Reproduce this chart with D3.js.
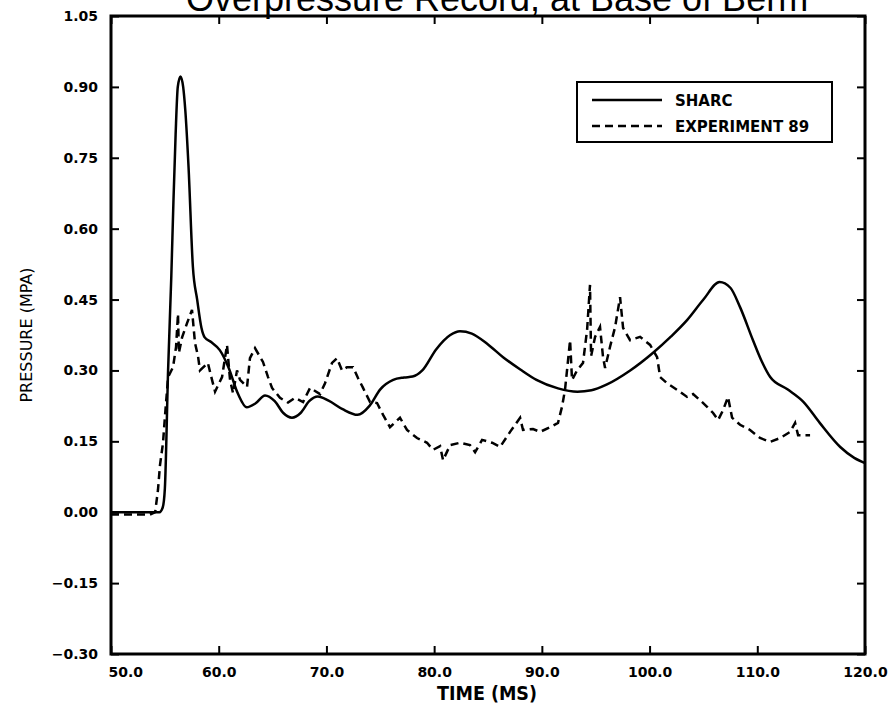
<!DOCTYPE html>
<html>
<head>
<meta charset="utf-8">
<script src="https://d3js.org/d3.v7.min.js"></script>
<style>
  body { margin: 0; background: #fff; }
  svg { display: block; }
</style>
</head>
<body>
<svg id="chart" width="893" height="707"></svg>
<script>
// values
var xTicks = [50, 60, 70, 80, 90, 100, 110, 120];
var yTicks = [-0.30, -0.15, 0.00, 0.15, 0.30, 0.45, 0.60, 0.75, 0.90, 1.05];

var sharcTime = [50, 54.5, 54.8, 55.0, 55.3, 55.6, 55.8, 56.0, 56.2, 56.45, 56.7, 56.9, 57.2, 57.6, 58.0, 58.4,
    58.7, 59.3, 60.1, 60.9, 61.8, 62.6, 63.4, 64.3, 65.2, 66.0, 66.8, 67.6, 68.4, 69.2, 70.2, 71.5, 72.9,
    74.0, 75.0, 76.2, 77.2, 78.0, 78.9, 80.2, 81.5, 82.4, 83.5, 85.0, 86.4, 88.0, 89.5, 91.5, 93.3, 94.6,
    96.0, 98.2, 100.3, 102.0, 103.5, 105.0, 106.5, 107.5, 108.4, 109.6, 110.4, 111.2, 112.8, 114.3, 115.8,
    117.7, 119.0, 120];
var sharcPressure = [0, 0, 0.01, 0.05, 0.3, 0.5, 0.66, 0.8, 0.9, 0.922, 0.9, 0.85, 0.73, 0.52, 0.45, 0.39,
    0.37, 0.36, 0.343, 0.307, 0.25, 0.222, 0.23, 0.247, 0.235, 0.21, 0.2, 0.21, 0.235, 0.245, 0.236, 0.218, 0.206,
    0.225, 0.26, 0.28, 0.285, 0.287, 0.3, 0.345, 0.375, 0.383, 0.378, 0.355, 0.328, 0.302, 0.28, 0.262, 0.255, 0.258,
    0.27, 0.3, 0.337, 0.372, 0.407, 0.45, 0.487, 0.475, 0.434, 0.364, 0.32, 0.286, 0.26, 0.233, 0.189,
    0.138, 0.115, 0.104];

var expTime = [50.0, 53.6, 54.1, 54.36, 54.55, 54.83, 55.0, 55.3, 55.76, 56.04, 56.22, 56.3, 56.6, 57.06, 57.52,
    57.8, 58.08, 58.26, 58.99, 59.38, 59.66, 60.31, 60.77, 61.05, 61.33, 61.7, 61.98, 62.63, 62.9, 63.37,
    64.11, 64.58, 64.95, 65.69, 66.43, 67.08, 67.83, 68.48, 69.41, 69.87, 70.52, 70.98, 71.45, 71.91, 72.47,
    72.93, 73.4, 74.05, 74.7, 75.26, 75.9, 76.83, 77.48, 78.41, 79.34, 79.9, 80.55, 80.83, 81.48, 82.4,
    83.33, 83.8, 84.45, 85.38, 86.12, 87.05, 87.98, 88.25, 89.18, 89.83, 90.76, 91.5, 91.87, 92.15, 92.62,
    92.8, 93.27, 93.82, 94.2, 94.47, 94.57, 94.94, 95.4, 95.68, 95.87, 96.33, 96.8, 97.26, 97.54, 98.19,
    99.12, 100.05, 100.7, 100.98, 101.62, 102.55, 103.48, 104.04, 104.69, 105.34, 105.9, 106.36, 106.82,
    107.28, 107.66, 108.4, 109.33, 110.26, 111.19, 112.12, 113.05, 113.51, 113.79, 114.9];
var expPressure = [-0.005, -0.005, 0.0, 0.047, 0.10, 0.147, 0.2, 0.286, 0.307, 0.35, 0.42, 0.337, 0.37, 0.40, 0.428,
    0.358, 0.33, 0.30, 0.316, 0.28, 0.255, 0.286, 0.354, 0.28, 0.252, 0.30, 0.28, 0.265, 0.326, 0.347,
    0.318, 0.286, 0.263, 0.242, 0.232, 0.242, 0.233, 0.263, 0.25, 0.273, 0.316, 0.326, 0.30, 0.307, 0.307,
    0.284, 0.263, 0.233, 0.231, 0.206, 0.18, 0.20, 0.174, 0.157, 0.147, 0.132, 0.14, 0.11, 0.142, 0.147,
    0.142, 0.127, 0.153, 0.147, 0.138, 0.17, 0.20, 0.174, 0.176, 0.17, 0.18, 0.189, 0.223, 0.259, 0.364,
    0.28, 0.30, 0.316, 0.386, 0.481, 0.33, 0.371, 0.392, 0.328, 0.305, 0.35, 0.392, 0.455, 0.39, 0.364,
    0.371, 0.354, 0.328, 0.286, 0.273, 0.259, 0.244, 0.25, 0.237, 0.223, 0.21, 0.195, 0.216,
    0.244, 0.20, 0.185, 0.174, 0.157, 0.149, 0.157, 0.17, 0.189, 0.163, 0.163];

var seriesNames = ["SHARC", "EXPERIMENT 89"];

var svg = d3.select("#chart"),
    plotLeft = 111, plotRight = 865, plotTop = 16, plotBottom = 654;

var x = d3.scaleLinear().domain([50, 120]).range([plotLeft, plotRight]);
var y = d3.scaleLinear().domain([-0.30, 1.05]).range([plotBottom, plotTop]);

// title, clipped at the top of the scan
svg.append("text")
    .attr("x", 497)
    .attr("y", 11)
    .attr("text-anchor", "middle")
    .style("font-family", "Liberation Sans, Arial, sans-serif")
    .style("font-size", "36px")
    .text("Overpressure Record, at Base of Berm");

// inward ticks on all four sides
var tickLen = 8;
var axisBottom = d3.axisBottom(x).tickValues(xTicks).tickSizeInner(-tickLen).tickSizeOuter(0);
var axisTop = d3.axisTop(x).tickValues(xTicks).tickSizeInner(-tickLen).tickSizeOuter(0).tickFormat("");
var axisLeft = d3.axisLeft(y).tickValues(yTicks).tickSizeInner(-tickLen).tickSizeOuter(0);
var axisRight = d3.axisRight(y).tickValues(yTicks).tickSizeInner(-tickLen).tickSizeOuter(0).tickFormat("");

function styleAxis(g) {
    g.select(".domain").remove();
    g.selectAll(".tick line").attr("stroke", "#000").attr("stroke-width", 2);
    g.selectAll(".tick text")
        .style("font-family", "DejaVu Sans, sans-serif")
        .style("font-weight", "bold")
        .style("font-size", "14px")
        .attr("fill", "#000");
}

var gx = svg.append("g").attr("transform", "translate(0," + plotBottom + ")").call(axisBottom).call(styleAxis);
gx.selectAll(".tick text").attr("y", 13).attr("dy", "0.71em").text(function (d) {
    return d3.format(".1f")(d);
});
// first label sits to the right of the corner
gx.selectAll(".tick text").filter(function (d) { return d === 50; })
    .attr("text-anchor", "start").attr("x", -3);

svg.append("g").attr("transform", "translate(0," + plotTop + ")").call(axisTop).call(styleAxis);

var gy = svg.append("g").attr("transform", "translate(" + plotLeft + ",0)").call(axisLeft).call(styleAxis);
gy.selectAll(".tick text").attr("x", -13).text(function (d) {
    return d3.format(".2f")(d).replace("-", "\u2212");
});

svg.append("g").attr("transform", "translate(" + plotRight + ",0)").call(axisRight).call(styleAxis);

// frame
svg.append("rect")
    .attr("x", plotLeft)
    .attr("y", plotTop)
    .attr("width", plotRight - plotLeft)
    .attr("height", plotBottom - plotTop)
    .attr("fill", "none")
    .attr("stroke", "#000")
    .attr("stroke-width", 3);

// axis titles
svg.append("text")
    .attr("x", 487)
    .attr("y", 700)
    .attr("text-anchor", "middle")
    .attr("textLength", 100)
    .attr("lengthAdjust", "spacingAndGlyphs")
    .style("font-family", "DejaVu Sans, sans-serif")
    .style("font-weight", "bold")
    .style("font-size", "19px")
    .text("TIME (MS)");

svg.append("text")
    .attr("transform", "translate(32,335) rotate(-90)")
    .attr("text-anchor", "middle")
    .style("font-family", "DejaVu Sans, sans-serif")
    .style("font-size", "16px")
    .text("PRESSURE (MPA)");

// curves
var sharc = sharcTime.map(function (t, i) { return [t, sharcPressure[i]]; });
var exp = expTime.map(function (t, i) { return [t, expPressure[i]]; });

var smooth = d3.line()
    .x(function (d) { return x(d[0]); })
    .y(function (d) { return y(d[1]); })
    .curve(d3.curveMonotoneX);

var jagged = d3.line()
    .x(function (d) { return x(d[0]); })
    .y(function (d) { return y(d[1]); });

svg.append("path")
    .attr("d", jagged(exp))
    .attr("fill", "none")
    .attr("stroke", "#000")
    .attr("stroke-width", 2.5)
    .attr("stroke-dasharray", "8,5");

svg.append("path")
    .attr("d", smooth(sharc))
    .attr("fill", "none")
    .attr("stroke", "#000")
    .attr("stroke-width", 2.5);

// legend
var legend = svg.append("g");

legend.append("rect")
    .attr("x", 577)
    .attr("y", 82)
    .attr("width", 255)
    .attr("height", 60)
    .attr("fill", "#fff")
    .attr("stroke", "#000")
    .attr("stroke-width", 2);

legend.selectAll(".item")
    .data(seriesNames)
    .enter().append("g")
    .attr("class", "item")
    .each(function (name, i) {
        var g = d3.select(this), ly = 100 + i * 26;
        g.append("line")
            .attr("x1", 592).attr("x2", 662)
            .attr("y1", ly).attr("y2", ly)
            .attr("stroke", "#000")
            .attr("stroke-width", 2.5)
            .attr("stroke-dasharray", i === 0 ? null : "8,5");
        g.append("text")
            .attr("x", 675)
            .attr("y", ly + 6)
            .style("font-family", "DejaVu Sans, sans-serif")
            .style("font-weight", "bold")
            .style("font-size", "15px")
            .text(name);
    });
</script>
</body>
</html>
